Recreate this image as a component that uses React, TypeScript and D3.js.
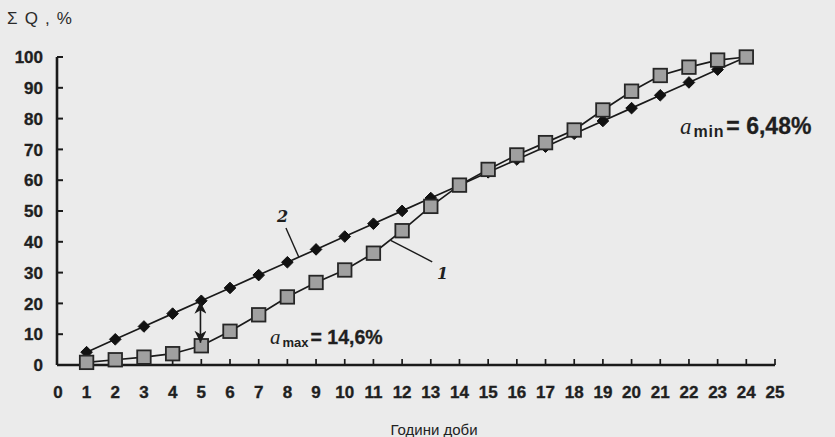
import React from "react";
import * as d3 from "d3";

const hours = [1, 2, 3, 4, 5, 6, 7, 8, 9, 10, 11, 12, 13, 14, 15, 16, 17, 18, 19, 20, 21, 22, 23, 24];
// curve 1 (squares)
const series1 = [0.85, 1.7, 2.55, 3.67, 6.25, 10.95, 16.3, 22.1, 26.8, 30.85, 36.3, 43.6, 51.5, 58.4, 63.5, 68.2, 72.2, 76.3, 82.8, 88.9, 94.0, 96.7, 99.0, 100];
// curve 2 (diamonds)
const series2 = [4.17, 8.34, 12.51, 16.68, 20.85, 25.02, 29.19, 33.36, 37.53, 41.7, 45.87, 50.04, 54.21, 58.38, 62.55, 66.72, 70.89, 75.06, 79.23, 83.4, 87.57, 91.74, 95.91, 100];
const xTicks = d3.range(0, 26);
const yTicks = [0, 10, 20, 30, 40, 50, 60, 70, 80, 90, 100];

const W = 835;
const H = 437;

export default function App() {
  const x = d3.scaleLinear().domain([0, 25]).range([57.9, 775]);
  const y = d3.scaleLinear().domain([0, 100]).range([365, 57]);
  const line = d3
    .line<number>()
    .x((_, i) => x(hours[i]))
    .y((d) => y(d));
  const ink = "#1a1a1a";
  const txt = "#1f1f1f";
  const font = "'Liberation Sans', Arial, sans-serif";
  const ax = 57;
  const sq = 13.5;
  const dm = 5.8;
  const arrowX = x(4.97);
  return (
    <svg
      width={W}
      height={H}
      style={{ position: "absolute", left: 0, top: 0, background: "#ebebeb" }}
    >
      <rect x={0} y={0} width={W} height={H} fill="#ebebeb" />
      {/* title of y axis */}
      <text x={7} y={24} fontFamily={font} fontSize={17} letterSpacing={1.2} fill="#2a2a2a">
        Σ Q , %
      </text>
      {/* y axis */}
      <line x1={ax} x2={ax} y1={y(100)} y2={y(0)} stroke={ink} strokeWidth={2.6} />
      {yTicks.map((t) => (
        <g key={"y" + t}>
          <line x1={ax} x2={ax + 6} y1={y(t)} y2={y(t)} stroke={ink} strokeWidth={2} />
          <text
            x={43}
            y={y(t)}
            dy="0.36em"
            textAnchor="end"
            fontFamily={font}
            fontWeight="bold"
            fontSize={17}
            fill={txt}
            stroke={txt}
            strokeWidth={0.35}
          >
            {t}
          </text>
        </g>
      ))}
      {/* x axis */}
      <line x1={ax} x2={x(25)} y1={y(0)} y2={y(0)} stroke={ink} strokeWidth={2.4} />
      {xTicks.map((t) => (
        <g key={"x" + t}>
          {t > 0 && (
            <line x1={x(t)} x2={x(t)} y1={y(0)} y2={y(0) - 6} stroke={ink} strokeWidth={1.7} />
          )}
          <text
            x={x(t)}
            y={398}
            textAnchor="middle"
            fontFamily={font}
            fontWeight="bold"
            fontSize={17}
            fill={txt}
            stroke={txt}
            strokeWidth={0.35}
          >
            {t}
          </text>
        </g>
      ))}
      <text x={434} y={435} textAnchor="middle" fontFamily={font} fontSize={15} fill="#222">
        Години доби
      </text>

      {/* curve 2 */}
      <path d={line(series2) || ""} fill="none" stroke={ink} strokeWidth={1.7} />
      {series2.map((v, i) => (
        <path
          key={"d" + i}
          d={`M${x(hours[i])},${y(v) - dm}L${x(hours[i]) + dm},${y(v)}L${x(hours[i])},${y(v) + dm}L${x(hours[i]) - dm},${y(v)}Z`}
          fill="#111"
          stroke="#111"
          strokeWidth={1}
        />
      ))}
      {/* curve 1 */}
      <path d={line(series1) || ""} fill="none" stroke={ink} strokeWidth={1.7} />
      {series1.map((v, i) => (
        <rect
          key={"s" + i}
          x={x(hours[i]) - sq / 2}
          y={y(v) - sq / 2}
          width={sq}
          height={sq}
          fill="#a0a0a0"
          stroke="#262626"
          strokeWidth={1.8}
        />
      ))}

      {/* arrow a_max */}
      <defs>
        <marker
          id="ah"
          viewBox="0 0 10 10"
          refX={10}
          refY={5}
          markerUnits="userSpaceOnUse"
          markerWidth={12}
          markerHeight={12}
          orient="auto-start-reverse"
        >
          <path d="M0,0L10,5L0,10L3,5Z" fill={ink} />
        </marker>
      </defs>
      <line
        x1={arrowX}
        x2={arrowX}
        y1={y(series2[4]) + 1}
        y2={y(series1[4]) - 3}
        stroke={ink}
        strokeWidth={1.6}
        markerStart="url(#ah)"
        markerEnd="url(#ah)"
      />

      {/* labels of curves */}
      <line x1={x(7.95)} x2={x(8.4)} y1={y(44.5)} y2={y(35)} stroke={ink} strokeWidth={1.4} />
      <text x={277} y={222} fontFamily="'DejaVu Serif', serif" fontStyle="italic" fontWeight="bold" fontSize={16} fill={txt}>
        2
      </text>
      <line x1={x(11.6)} x2={x(13.05)} y1={y(40.5)} y2={y(33.5)} stroke={ink} strokeWidth={1.4} />
      <text x={437} y={279} fontFamily="'DejaVu Serif', serif" fontStyle="italic" fontWeight="bold" fontSize={16} fill={txt}>
        1
      </text>

      {/* a_max */}
      <text x={270} y={344} fontFamily={font} fill={txt}>
        <tspan fontFamily="'Liberation Serif', serif" fontStyle="italic" fontSize={21}>a</tspan>
        <tspan fontWeight="bold" fontSize={13} dx={2} dy={3}>max</tspan>
        <tspan fontWeight="bold" fontSize={19.5} dx={2} dy={-3} stroke={txt} strokeWidth={0.3}>= 14,6%</tspan>
      </text>
      {/* a_min */}
      <text x={680} y={134} fontFamily={font} fill={txt}>
        <tspan fontFamily="'Liberation Serif', serif" fontStyle="italic" fontSize={23}>a</tspan>
        <tspan fontWeight="bold" fontSize={16} dx={2} dy={3} letterSpacing={0.8}>min</tspan>
        <tspan fontWeight="bold" fontSize={23} dx={2} dy={-3} stroke={txt} strokeWidth={0.3}>= 6,48%</tspan>
      </text>
    </svg>
  );
}
